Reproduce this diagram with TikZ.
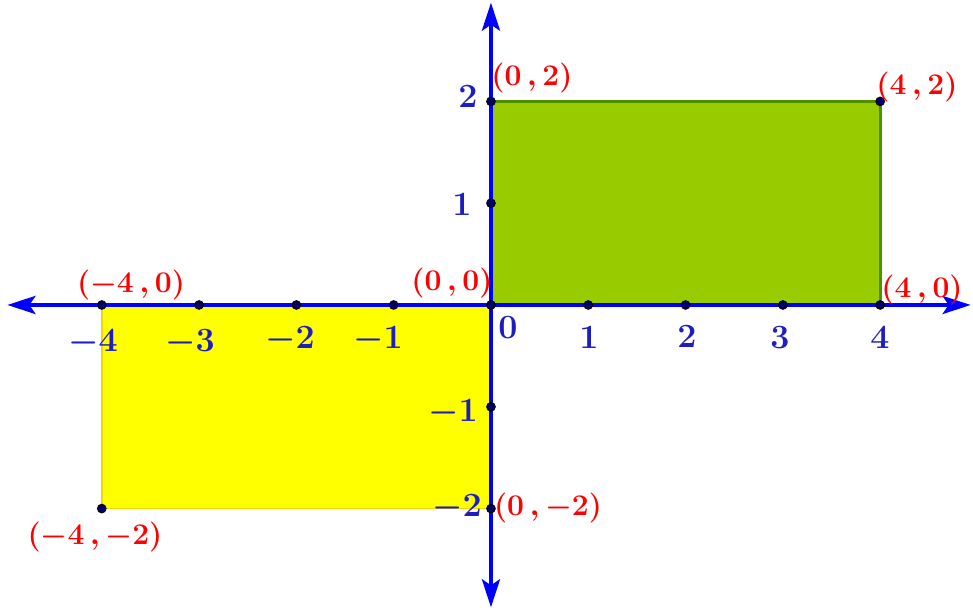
\documentclass[tikz,border=0pt]{standalone}
\usepackage{fix-cm}
\usepackage{amsmath}
\usepackage{tikz}
\usetikzlibrary{arrows.meta}
\definecolor{AxisBlue}{HTML}{0000FF}
\definecolor{TickBlue}{HTML}{1E1EC0}
\definecolor{PointRed}{HTML}{FF0000}
\definecolor{GreenFill}{HTML}{99CC00}
\definecolor{GreenEdge}{HTML}{4E8F00}
\definecolor{YellowFill}{HTML}{FFFF00}
\definecolor{YellowEdge}{HTML}{F2D600}
\tikzset{
  axis/.style={line width=2pt,AxisBlue,
    arrows={Stealth[length=14pt,width=9pt,inset=3pt]-Stealth[length=14pt,width=9pt,inset=3pt]}},
  tick/.style={TickBlue,inner sep=0pt,font=\fontsize{17}{20}\selectfont\boldmath},
  coordlabel/.style={PointRed,inner sep=0pt,font=\fontsize{15}{18}\selectfont\boldmath},
  dot/.style={fill=black!60!blue,draw=black,line width=0.4pt}
}
\begin{document}
\begin{tikzpicture}[x=1.71cm,y=1.789cm]
        \useasboundingbox (-5.046,-3.026) rectangle (4.954,2.996);
        % the two rectangles
        \filldraw[fill=GreenFill,draw=GreenEdge,line width=1.5pt] (0,0) rectangle (4,2);
        \filldraw[fill=YellowFill,draw=YellowEdge,line width=0.8pt] (-4,-2) rectangle (0,0);
        % axes
        \draw[axis] (-4.97,0) -- (4.93,0);
        \draw[axis] (0,-2.97) -- (0,2.97);
        % points
        \foreach \x in {-4,...,4}
          \fill[dot] (\x,0) circle[radius=2.2pt];
        \foreach \y in {-2,-1,1,2}
          \fill[dot] (0,\y) circle[radius=2.2pt];
        \fill[dot] (4,2) circle[radius=2.2pt];
        \fill[dot] (-4,-2) circle[radius=2.2pt];
        % tick labels
        \node[tick] (xm4) at (-4.09,-0.373) {$-4$};
        \node[tick] (xm3) at (-3.094,-0.373) {$-3$};
        \node[tick] (xm2) at (-2.066,-0.344) {$-2$};
        \node[tick] (xm1) at (-1.161,-0.344) {$-1$};
        \node[tick] (xz) at (0.175,-0.226) {$0$};
        \node[tick] (xp1) at (1.007,-0.324) {$1$};
        \node[tick] (xp2) at (2.014,-0.314) {$2$};
        \node[tick] (xp3) at (2.970,-0.324) {$3$};
        \node[tick] (xp4) at (3.998,-0.324) {$4$};
        \node[tick] (yp2) at (-0.236,2.043) {$2$};
        \node[tick] (yp1) at (-0.298,0.982) {$1$};
        \node[tick] (ym1) at (-0.391,-1.061) {$-1$};
        \node[tick] (ym2) at (-0.349,-1.994) {$-2$};
        % vertex labels
        \node[coordlabel] (lA) at (0.421,2.230) {$(0\,,2)$};
        \node[coordlabel] (lB) at (4.378,2.141) {$(4\,,2)$};
        \node[coordlabel] (lO) at (-0.401,0.216) {$(0\,,0)$};
        \node[coordlabel] (lC) at (-3.700,0.196) {$(-4\,,0)$};
        \node[coordlabel] (lD) at (4.430,0.147) {$(4\,,0)$};
        \node[coordlabel] (lE) at (0.586,-1.994) {$(0\,,-2)$};
        \node[coordlabel] (lF) at (-4.070,-2.279) {$(-4\,,-2)$};
      \end{tikzpicture}
\end{document}
